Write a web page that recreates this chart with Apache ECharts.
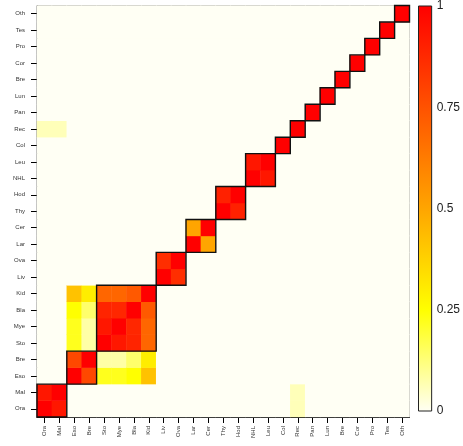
<!DOCTYPE html>
<html>
<head>
<meta charset="utf-8">
<script src="https://cdn.jsdelivr.net/npm/echarts@6/dist/echarts.min.js"></script>
<style>
html,body{margin:0;padding:0;background:#fff;}
#c{width:463px;height:446px;}
</style>
</head>
<body>
<div id="c"></div>
<script>
// Category labels (shared by both axes, bottom-to-top / left-to-right)
const labels = ['Ora','Mal','Eso','Bre','Sto','Mye','Bla','Kid','Liv','Ova','Lar','Cer','Thy','Hod','NHL','Leu','Col','Rec','Pan','Lun','Bre','Cor','Pro','Tes','Oth'];
// Diagonal value
const diagValue = 1;
// Off-diagonal non-zero values [i, j, value] (mirrored to [j, i])
const pairs = [
  [0,1,0.93],[0,17,0.06],[1,17,0.06],
  [2,3,0.78],[2,4,0.22],[2,5,0.22],[2,6,0.25],[2,7,0.42],
  [3,4,0.08],[3,5,0.08],[3,6,0.14],[3,7,0.30],
  [4,5,0.93],[4,6,0.89],[4,7,0.69],[5,6,0.88],[5,7,0.69],[6,7,0.73],
  [8,9,0.86],[10,11,0.50],[12,13,0.90],[14,15,0.93]
];
// Outlined blocks [startIndex, endIndex]
const blocks = [[0,1],[2,3],[4,7],[8,9],[10,11],[12,13],[14,15],[16,16],[17,17],[18,18],[19,19],[20,20],[21,21],[22,22],[23,23],[24,24]];
// Colour bar ticks
const colorTicks = [0,0.25,0.5,0.75,1];
const palette = ['#FFFFF4','#FFFF00','#FFA500','#FF5200','#FF0000'];

const n = labels.length;
const M = [];
for (let i = 0; i < n; i++) { M.push(new Array(n).fill(0)); M[i][i] = diagValue; }
pairs.forEach(([i,j,v]) => { M[i][j] = v; M[j][i] = v; });
const heat = [];
for (let x = 0; x < n; x++) for (let y = 0; y < n; y++) heat.push([x, y, M[y][x]]);

const chart = echarts.init(document.getElementById('c'), null, {renderer:'canvas'});
chart.setOption({
  animation: false,
  backgroundColor: '#ffffff',
  grid: [
    {left: 37, top: 5.5, width: 372.5, height: 411.5, show: true, borderColor: '#666', borderWidth: 1, backgroundColor: '#FFFFF4'},
    {left: 418.5, top: 6, width: 14, height: 405}
  ],
  xAxis: [
    {type: 'category', gridIndex: 0, data: labels,
     axisLine: {show: true, lineStyle: {color: '#000', width: 1}},
     axisTick: {show: true, length: 6, alignWithLabel: true, lineStyle: {color: '#000'}},
     axisLabel: {rotate: 90, fontSize: 6, color: '#333', margin: 9, interval: 0, fontFamily: 'Liberation Sans, Arial, sans-serif'},
     splitLine: {show: false}},
    {type: 'value', gridIndex: 1, min: 0, max: 1, show: false}
  ],
  yAxis: [
    {type: 'category', gridIndex: 0, data: labels,
     axisLine: {show: true, lineStyle: {color: '#000', width: 1}},
     axisTick: {show: true, length: 6, alignWithLabel: true, lineStyle: {color: '#000'}},
     axisLabel: {fontSize: 6, color: '#333', margin: 12, interval: 0, fontFamily: 'Liberation Sans, Arial, sans-serif'},
     splitLine: {show: false}},
    {type: 'value', gridIndex: 1, min: 0, max: 1, interval: 0.25, position: 'right',
     axisLine: {show: false}, axisTick: {show: false}, splitLine: {show: false},
     axisLabel: {fontSize: 12, color: '#222', margin: 5, fontFamily: 'Liberation Sans, Arial, sans-serif',
       formatter: v => String(+v.toFixed(2))}}
  ],
  visualMap: {show: false, type: 'continuous', seriesIndex: 0, min: 0, max: 1, inRange: {color: palette}},
  series: [
    {type: 'heatmap', xAxisIndex: 0, yAxisIndex: 0, data: heat, itemStyle: {borderWidth: 0}, emphasis: {disabled: true}},
    {type: 'custom', xAxisIndex: 0, yAxisIndex: 0, data: blocks, z: 5,
     renderItem: (params, api) => {
       const s = api.value(0), e = api.value(1);
       const a = api.coord([s, s]);
       const b = api.coord([e, e]);
       const sz = api.size([1, 1]);
       return {type: 'rect', shape: {x: a[0] - sz[0]/2, y: b[1] - sz[1]/2, width: b[0] - a[0] + sz[0], height: a[1] - b[1] + sz[1]},
               style: {fill: 'none', stroke: '#111', lineWidth: 1.4}};
     }},
    {type: 'custom', xAxisIndex: 1, yAxisIndex: 1, data: [[0, 0]], z: 5,
     renderItem: (params, api) => {
       const p0 = api.coord([0, 0]);
       const p1 = api.coord([1, 1]);
       const stops = colorTicks.map((t, i) => ({offset: t, color: palette[i]}));
       return {type: 'rect', shape: {x: p0[0], y: p1[1], width: p1[0] - p0[0], height: p0[1] - p1[1]},
               style: {fill: new echarts.graphic.LinearGradient(0, 1, 0, 0, stops), stroke: '#222', lineWidth: 1}};
     }}
  ]
});
</script>
</body>
</html>
